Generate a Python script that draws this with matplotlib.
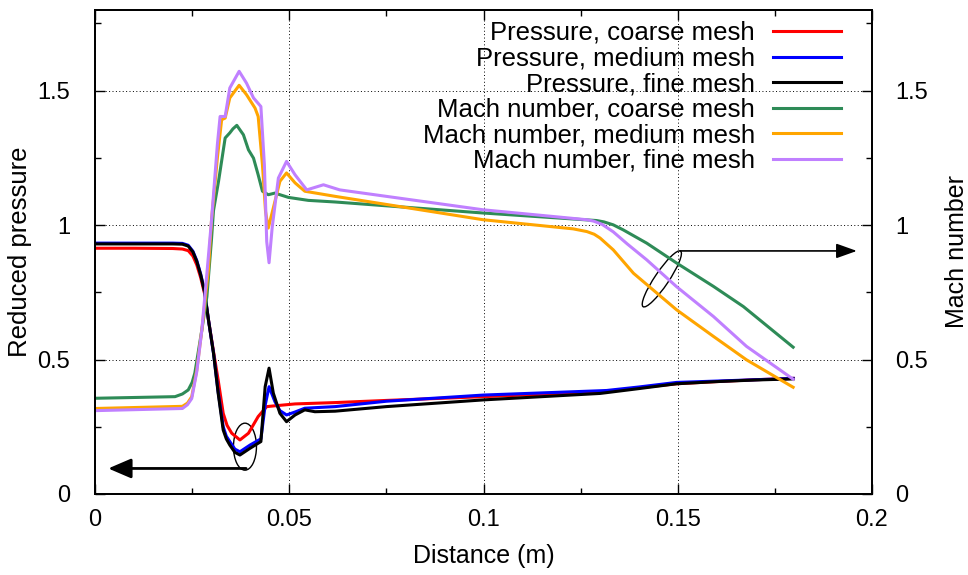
import matplotlib
matplotlib.use("Agg")
import matplotlib.pyplot as plt
from matplotlib.patches import Ellipse
from matplotlib.transforms import ScaledTranslation
from matplotlib.ticker import MultipleLocator

plt.rcParams['font.family'] = ['Liberation Sans', 'DejaVu Sans']

# reduced pressure, three meshes
x_p_coarse = [0, 0.01, 0.02, 0.0225, 0.024, 0.0252, 0.0262, 0.0272, 0.0282, 0.0292, 0.0305, 0.0317,
              0.033, 0.034, 0.0352, 0.0373, 0.0395, 0.042, 0.0442, 0.0463, 0.0515, 0.0618, 0.075,
              0.1, 0.13, 0.1317, 0.14, 0.1497, 0.16, 0.17, 0.1797]
p_coarse = [0.914, 0.914, 0.913, 0.911, 0.905, 0.885, 0.852, 0.805, 0.745, 0.648, 0.53, 0.424,
            0.30, 0.255, 0.226, 0.201, 0.226, 0.288, 0.325, 0.328, 0.335, 0.34, 0.348,
            0.362, 0.38, 0.382, 0.395, 0.41, 0.418, 0.425, 0.43]

x_p_medium = [0, 0.02, 0.0225, 0.024, 0.0252, 0.0262, 0.0272, 0.0282, 0.0292, 0.0305, 0.0317, 0.033,
              0.0338, 0.0347, 0.036, 0.0373, 0.0399, 0.0427, 0.0438, 0.0448, 0.0463, 0.0476, 0.0493,
              0.0515, 0.054, 0.0618, 0.075, 0.1, 0.13, 0.1317, 0.14, 0.1497, 0.16, 0.17, 0.1797]
p_medium = [0.933, 0.933, 0.932, 0.925, 0.903, 0.868, 0.818, 0.755, 0.648, 0.524, 0.38, 0.25,
            0.215, 0.195, 0.167, 0.157, 0.182, 0.205, 0.33, 0.399, 0.344, 0.31, 0.294,
            0.305, 0.319, 0.325, 0.345, 0.368, 0.384, 0.385, 0.398, 0.415, 0.42, 0.425, 0.43]

x_p_fine = [0, 0.02, 0.0225, 0.024, 0.0252, 0.0262, 0.0272, 0.0282, 0.0292, 0.0305, 0.0317, 0.033,
            0.0338, 0.0347, 0.036, 0.0373, 0.0399, 0.0427, 0.0438, 0.0448, 0.0459, 0.0476, 0.0493,
            0.0515, 0.054, 0.0566, 0.0618, 0.075, 0.1, 0.13, 0.1317, 0.14, 0.1497, 0.16, 0.17, 0.1797]
p_fine = [0.93, 0.93, 0.929, 0.922, 0.900, 0.865, 0.815, 0.752, 0.648, 0.524, 0.375, 0.238,
          0.205, 0.182, 0.155, 0.145, 0.17, 0.195, 0.399, 0.468, 0.375, 0.30, 0.269,
          0.294, 0.313, 0.306, 0.308, 0.325, 0.35, 0.374, 0.377, 0.392, 0.41, 0.418, 0.424, 0.428]

# Mach number, three meshes
x_m_coarse = [0, 0.0206, 0.0225, 0.024, 0.025, 0.0257, 0.0275, 0.0288, 0.03, 0.0305, 0.0318, 0.0335,
              0.0347, 0.0355, 0.0365, 0.0382, 0.0395, 0.0408, 0.042, 0.0431, 0.0446, 0.0463, 0.0498,
              0.0549, 0.0618, 0.0999, 0.1291, 0.131, 0.1334, 0.136, 0.142, 0.1497, 0.1592, 0.1669,
              0.1797]
m_coarse = [0.356, 0.362, 0.372, 0.387, 0.415, 0.45, 0.61, 0.734, 0.95, 1.054, 1.163, 1.324,
            1.343, 1.358, 1.371, 1.336, 1.28, 1.249, 1.187, 1.126, 1.113, 1.119, 1.103,
            1.092, 1.086, 1.045, 1.017, 1.012, 1.001, 0.982, 0.933, 0.859, 0.772, 0.697,
            0.546]

x_m_medium = [0, 0.0225, 0.0238, 0.0249, 0.0262, 0.0275, 0.0292, 0.03, 0.0315, 0.0326, 0.0335, 0.0347,
              0.0371, 0.039, 0.0412, 0.042, 0.0431, 0.0439, 0.0446, 0.0459, 0.0476, 0.0493, 0.0515,
              0.054, 0.0618, 0.0999, 0.1231, 0.1266, 0.1285, 0.13, 0.1334, 0.1386, 0.1497, 0.1592,
              0.1677, 0.1797]
m_medium = [0.318, 0.326, 0.338, 0.362, 0.461, 0.61, 0.834, 1.02, 1.25, 1.392, 1.398, 1.473,
            1.52, 1.485, 1.435, 1.404, 1.224, 1.05, 0.989, 1.064, 1.163, 1.194, 1.157,
            1.126, 1.107, 1.02, 0.986, 0.976, 0.966, 0.952, 0.908, 0.821, 0.685, 0.586,
            0.499, 0.397]

x_m_fine = [0, 0.0225, 0.0238, 0.0249, 0.0262, 0.0275, 0.0288, 0.03, 0.0315, 0.0322, 0.0335, 0.0347,
            0.0371, 0.039, 0.0408, 0.0427, 0.0436, 0.0442, 0.0448, 0.0456, 0.0472, 0.0493, 0.0515,
            0.0545, 0.0588, 0.063, 0.0999, 0.1266, 0.1283, 0.1305, 0.1334, 0.137, 0.142, 0.1497,
            0.1592, 0.1677, 0.1797]
m_fine = [0.31, 0.318, 0.332, 0.355, 0.455, 0.61, 0.82, 1.02, 1.30, 1.404, 1.404, 1.51,
          1.572, 1.528, 1.473, 1.441, 1.224, 0.939, 0.86, 0.99, 1.175, 1.237, 1.187,
          1.131, 1.15, 1.131, 1.057, 1.02, 1.015, 1.003, 0.975, 0.93, 0.871, 0.771,
          0.66, 0.549, 0.427]

labels = ["Pressure, coarse mesh", "Pressure, medium mesh", "Pressure, fine mesh",
          "Mach number, coarse mesh", "Mach number, medium mesh", "Mach number, fine mesh"]
colors = ["#ff0000", "#0000ff", "#000000", "#2e8b57", "#ffa500", "#c080ff"]

xticks = [0, 0.05, 0.1, 0.15, 0.2]
xtick_labels = ["0", "0.05", "0.1", "0.15", "0.2"]
yticks = [0, 0.5, 1, 1.5]
ytick_labels = ["0", "0.5", "1", "1.5"]

fs = 17      # tick labels
fs_lab = 18.5  # axis labels and legend

fig = plt.figure(figsize=(9.68, 5.75), dpi=100)
ax = fig.add_axes([95 / 968, 81 / 575, 777 / 968, 484 / 575])
ax2 = ax.twinx()

series = [(x_p_coarse, p_coarse), (x_p_medium, p_medium), (x_p_fine, p_fine),
          (x_m_coarse, m_coarse), (x_m_medium, m_medium), (x_m_fine, m_fine)]
for (xs, ys), c, lab in zip(series, colors, labels):
    ax.plot(xs, ys, color=c, lw=2.2, label=lab, solid_joinstyle='round')

for a in (ax, ax2):
    a.set_xlim(0, 0.2)
    a.set_ylim(0, 1.8)
    for s in a.spines.values():
        s.set_linewidth(1.3)

ax.set_xticks(xticks)
ax.set_xticklabels(xtick_labels)
ax.set_yticks(yticks)
ax.set_yticklabels(ytick_labels)
ax.xaxis.set_minor_locator(MultipleLocator(0.025))
ax.yaxis.set_minor_locator(MultipleLocator(0.25))
ax.tick_params(axis='x', which='both', direction='in', top=True, labelsize=fs, pad=11)
ax.tick_params(axis='y', which='both', direction='in', right=False, labelsize=fs, pad=18)
ax.tick_params(which='major', length=7, width=1)
ax.tick_params(which='minor', length=4, width=1)

ax2.set_yticks(yticks)
ax2.set_yticklabels(ytick_labels)
ax2.yaxis.set_minor_locator(MultipleLocator(0.25))
ax2.tick_params(axis='y', which='both', direction='in', labelsize=fs, pad=17)
ax2.tick_params(which='major', length=7, width=1)
ax2.tick_params(which='minor', length=4, width=1)

ax.grid(True, which='major', color='black', linestyle=(0, (1, 2.5)), linewidth=0.7)

ax.set_xlabel("Distance (m)", fontsize=18)
ax.set_ylabel("Reduced pressure", fontsize=fs_lab)
ax2.set_ylabel("Mach number", fontsize=18)
ax.xaxis.set_label_coords(0.5, -0.103)
ax.yaxis.set_label_coords(-0.081, 0.5)
ax2.yaxis.set_label_coords(1.094, 0.5)

ax.legend(loc='upper right', bbox_to_anchor=((841 - 95) / 777, (494 - 21) / 484),
          frameon=False, fontsize=fs_lab, markerfirst=False, handlelength=2.65,
          handletextpad=0.7, labelspacing=0.06, borderpad=0, borderaxespad=0)

# ellipses (sized in inches) and arrows pointing to the matching axis
ell1 = Ellipse((0, 0), 0.23, 0.47, angle=0, fill=False, lw=1.0, color='black',
               transform=fig.dpi_scale_trans + ScaledTranslation(0.0386, 0.176, ax.transData))
ell2 = Ellipse((0, 0), 0.67, 0.14, angle=56, fill=False, lw=1.0, color='black',
               transform=fig.dpi_scale_trans + ScaledTranslation(0.1459, 0.80, ax.transData))
ax.add_patch(ell1)
ax.add_patch(ell2)
ax.annotate('', xy=(0.0034, 0.095), xytext=(0.0389, 0.095),
            arrowprops=dict(arrowstyle='-|>,head_length=0.7,head_width=0.3', lw=2, color='black',
                            mutation_scale=20, shrinkA=0, shrinkB=0))
ax.annotate('', xy=(0.1961, 0.904), xytext=(0.1506, 0.904),
            arrowprops=dict(arrowstyle='-|>,head_length=0.7,head_width=0.25', lw=1.2, color='black',
                            mutation_scale=18, shrinkA=0, shrinkB=0))

fig.savefig("out.png", dpi=100)
